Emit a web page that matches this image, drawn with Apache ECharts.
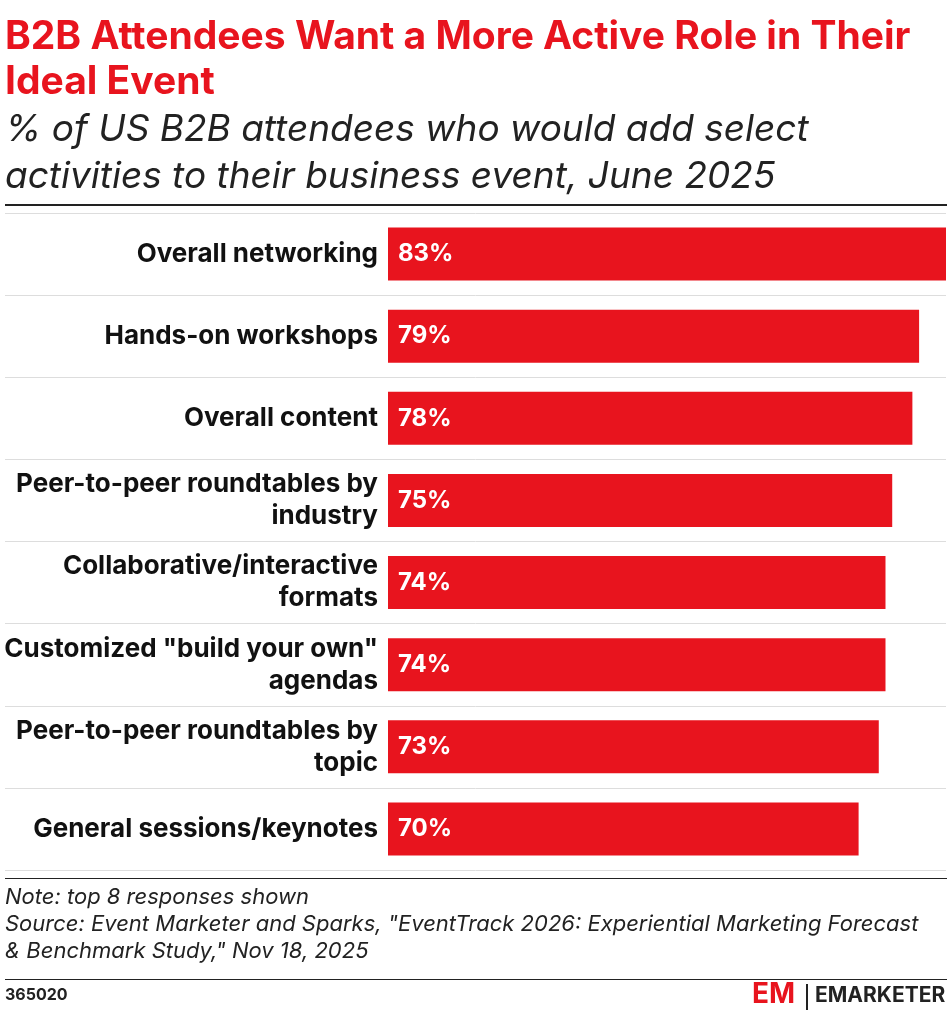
<!DOCTYPE html><html><head><meta charset="utf-8"><script src="https://cdn.jsdelivr.net/npm/echarts@6/dist/echarts.min.js"></script>
<style>body{margin:0}#c{width:952px;height:1018px}</style></head><body><div id="c"></div><script>
const categories=["Overall networking","Hands-on workshops","Overall content","Peer-to-peer roundtables by\nindustry","Collaborative/interactive\nformats","Customized \"build your own\"\nagendas","Peer-to-peer roundtables by\ntopic","General sessions/keynotes"];
const values=[83,79,78,75,74,74,73,70];
const F='Inter, "Noto Sans", sans-serif';
const c=echarts.init(document.getElementById('c'));
const T=213,B=148;
c.setOption({animation:false,
graphic:[
{type:'text',left:5,top:15,style:{text:'B2B Attendees Want a More Active Role in Their\nIdeal Event',fill:'#e8141e',font:'bold 39px '+F,lineHeight:45}},
{type:'text',left:5,top:106,style:{text:'% of US B2B attendees who would add select\nactivities to their business event, June 2025',fill:'#222',font:'italic 37px '+F,lineHeight:47}},
{type:'rect',shape:{x:5,y:204,width:942,height:2},style:{fill:'#222'}},
{type:'rect',shape:{x:5,y:878,width:942,height:1},style:{fill:'#222'}},
{type:'text',left:5,top:884,style:{text:'Note: top 8 responses shown\nSource: Event Marketer and Sparks, "EventTrack 2026: Experiential Marketing Forecast\n& Benchmark Study," Nov 18, 2025',fill:'#222',font:'italic 22px '+F,lineHeight:27}},
{type:'rect',shape:{x:5,y:979,width:942,height:1},style:{fill:'#222'}},
{type:'text',left:5,top:987,style:{text:'365020',fill:'#222',font:'bold 16px '+F}},
{type:'text',left:752,top:981,style:{text:'EM',fill:'#e8141e',font:'bold 28px '+F}},
{type:'rect',shape:{x:806,y:984,width:2,height:26},style:{fill:'#222'}},
{type:'text',left:815,top:985,style:{text:'EMARKETER',fill:'#222',font:'bold 21px '+F}}
],
grid:[{left:388,right:6,top:T,bottom:B},{left:5,right:6,top:T,bottom:B}],
xAxis:[{gridIndex:0,type:'value',min:0,max:83,show:false},{gridIndex:1,type:'value',show:false}],
yAxis:[{gridIndex:0,type:'category',inverse:true,data:categories,axisLine:{show:false},axisTick:{show:false},
 axisLabel:{margin:10,color:'#111',fontFamily:F,fontWeight:'bold',fontSize:26,lineHeight:32,align:'right'}},
 {gridIndex:1,type:'category',inverse:true,data:categories,axisLine:{show:false},axisTick:{show:false},axisLabel:{show:false},
 splitLine:{show:true,lineStyle:{color:'#ddd'}}}],
series:[{type:'bar',data:values,barWidth:53,itemStyle:{color:'#e8141e'},
 label:{show:true,position:'insideLeft',distance:10,formatter:'{c}%',color:'#fff',fontFamily:F,fontWeight:'bold',fontSize:24}}]
});
</script></body></html>
